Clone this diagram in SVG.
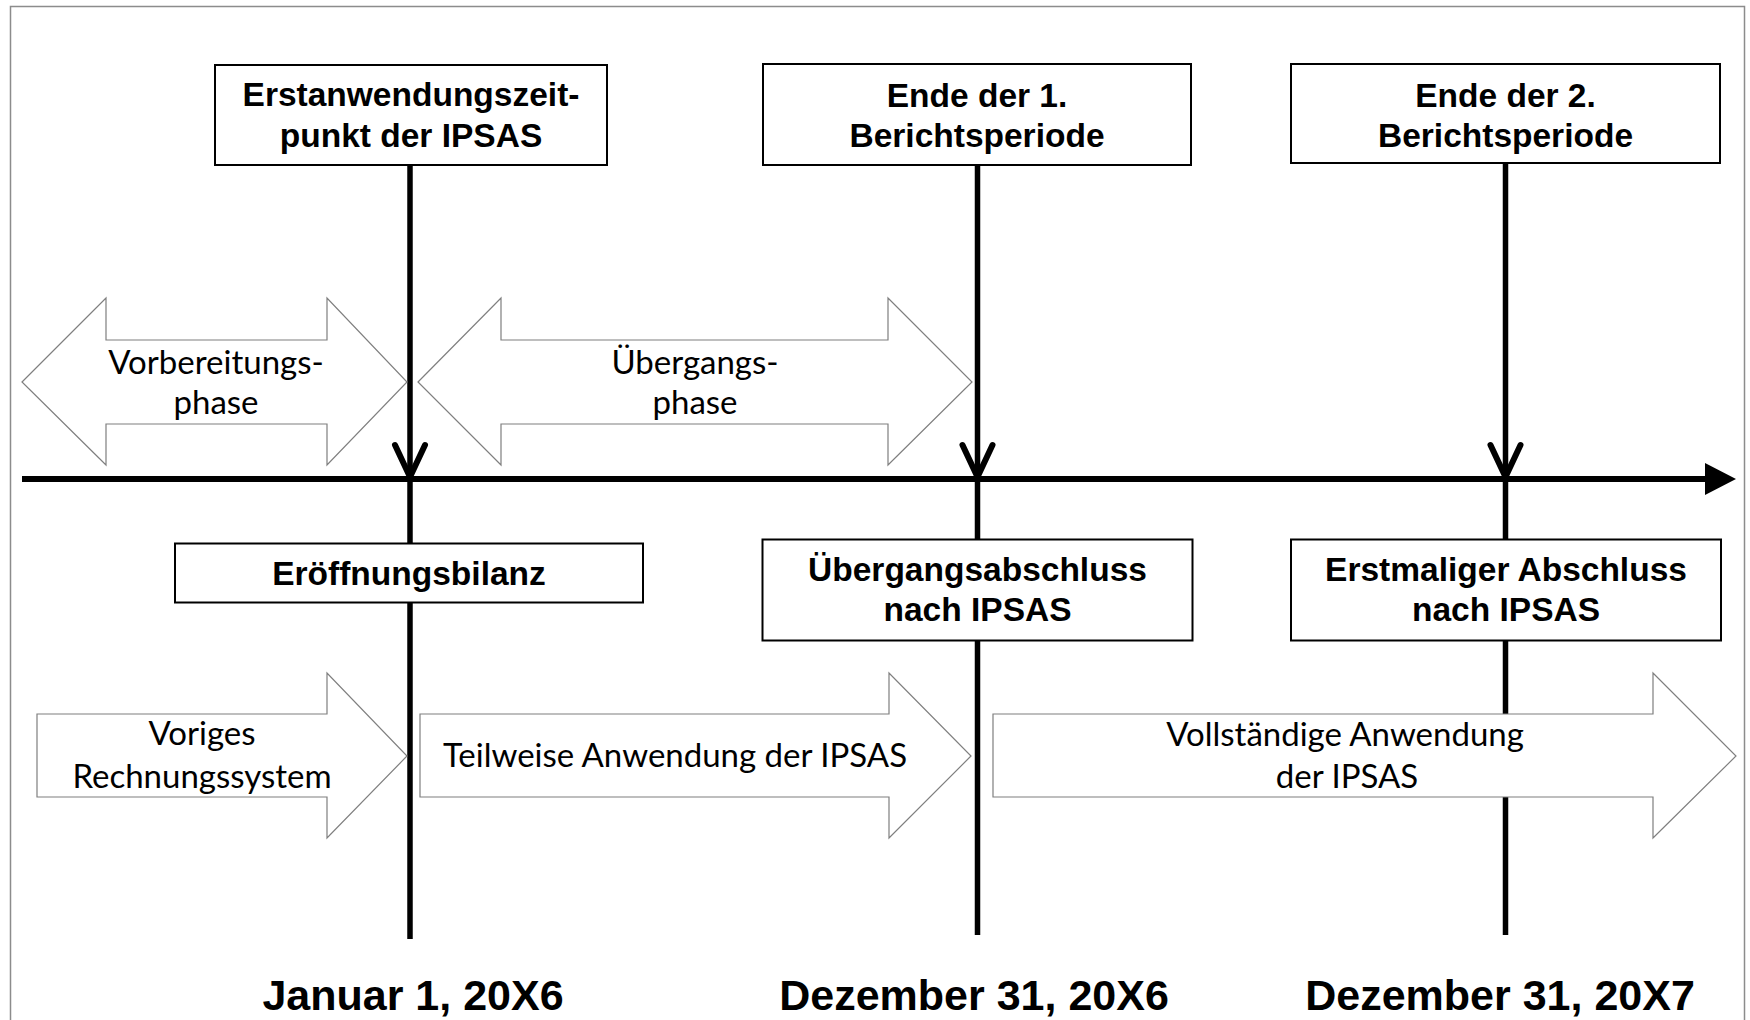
<svg xmlns="http://www.w3.org/2000/svg" width="1750" height="1020" viewBox="0 0 1750 1020">
<style>
.frame{fill:none;stroke:#8c8c8c;stroke-width:1.5}
.box{fill:#fff;stroke:#000;stroke-width:2}
.bt{font-family:"Liberation Sans",Arial,sans-serif;font-weight:bold;font-size:33.5px;fill:#000;text-anchor:middle}
.dt{font-family:"Liberation Sans",Arial,sans-serif;font-weight:bold;font-size:43px;fill:#000;text-anchor:middle}
.arr{fill:#fff;stroke:#7f7f7f;stroke-width:1.2;stroke-linejoin:miter}
.at{font-family:Lato,"Open Sans",sans-serif;font-size:33px;fill:#000;text-anchor:middle}
.vl{stroke:#000;stroke-width:5.5;fill:none}
.ax{stroke:#000;stroke-width:6;fill:none}
.v{stroke:#000;stroke-width:6;fill:none;stroke-linecap:round;stroke-linejoin:round}
</style>
<rect class="frame" x="10.5" y="6.5" width="1734" height="1040"/>
<g id="connectors">
<line class="vl" x1="410" y1="165" x2="410" y2="939"/>
<line class="vl" x1="977.5" y1="165" x2="977.5" y2="935"/>
<line class="vl" x1="1505.5" y1="163" x2="1505.5" y2="935"/>
<line class="ax" x1="22" y1="479" x2="1708" y2="479"/>
<polygon points="1705,463 1736,479 1705,495" fill="#000"/>
<polyline class="v" points="395,445 410,477 425,445"/>
<polyline class="v" points="962.5,445 977.5,477 992.5,445"/>
<polyline class="v" points="1490.5,445 1505.5,477 1520.5,445"/>
</g>
<g id="box-erstanwendung">
<rect class="box" x="215" y="65" width="392" height="100"/>
<text class="bt" x="411" y="106">Erstanwendungszeit-</text>
<text class="bt" x="411" y="147">punkt der IPSAS</text>
</g>
<g id="box-ende1">
<rect class="box" x="763" y="64" width="428" height="101"/>
<text class="bt" x="977" y="107">Ende der 1.</text>
<text class="bt" x="977" y="147">Berichtsperiode</text>
</g>
<g id="box-ende2">
<rect class="box" x="1291" y="64" width="429" height="99"/>
<text class="bt" x="1505.5" y="107">Ende der 2.</text>
<text class="bt" x="1505.5" y="147">Berichtsperiode</text>
</g>
<g id="box-eroeffnung">
<rect class="box" x="175" y="543.5" width="468" height="59"/>
<text class="bt" x="409" y="585">Eröffnungsbilanz</text>
</g>
<g id="box-uebergangsabschluss">
<rect class="box" x="762.5" y="539.5" width="430" height="101"/>
<text class="bt" x="977.5" y="581">Übergangsabschluss</text>
<text class="bt" x="977.5" y="621">nach IPSAS</text>
</g>
<g id="box-erstmaliger">
<rect class="box" x="1291" y="539.5" width="430" height="101"/>
<text class="bt" x="1506" y="581">Erstmaliger Abschluss</text>
<text class="bt" x="1506" y="621">nach IPSAS</text>
</g>
<g id="arrow-vorbereitung">
<polygon class="arr" points="22,382 106,298 106,340 327,340 327,298 407,382 327,465 327,424 106,424 106,465"/>
<text class="at" x="216" y="374">Vorbereitungs-</text>
<text class="at" x="216" y="414">phase</text>
</g>
<g id="arrow-uebergang">
<polygon class="arr" points="418,382 501,298 501,340 888,340 888,298 972,382 888,465 888,424 501,424 501,465"/>
<text class="at" x="695" y="374">Übergangs-</text>
<text class="at" x="695" y="414">phase</text>
</g>
<g id="arrow-voriges">
<polygon class="arr" points="37,714 327,714 327,673 407,756 327,838 327,797 37,797"/>
<text class="at" x="202" y="745">Voriges</text>
<text class="at" x="202" y="788">Rechnungssystem</text>
</g>
<g id="arrow-teilweise">
<polygon class="arr" points="420,714 889,714 889,673 971,756 889,838 889,797 420,797"/>
<text class="at" x="675" y="767">Teilweise Anwendung der IPSAS</text>
</g>
<g id="arrow-vollstaendig">
<polygon class="arr" points="993,714 1653,714 1653,673 1736,756 1653,838 1653,797 993,797"/>
<text class="at" x="1345" y="746">Vollständige Anwendung</text>
<text class="at" x="1347" y="788">der IPSAS</text>
</g>
<g id="dates">
<text class="dt" x="413" y="1010">Januar 1, 20X6</text>
<text class="dt" x="974" y="1010">Dezember 31, 20X6</text>
<text class="dt" x="1500" y="1010">Dezember 31, 20X7</text>
</g>
</svg>
